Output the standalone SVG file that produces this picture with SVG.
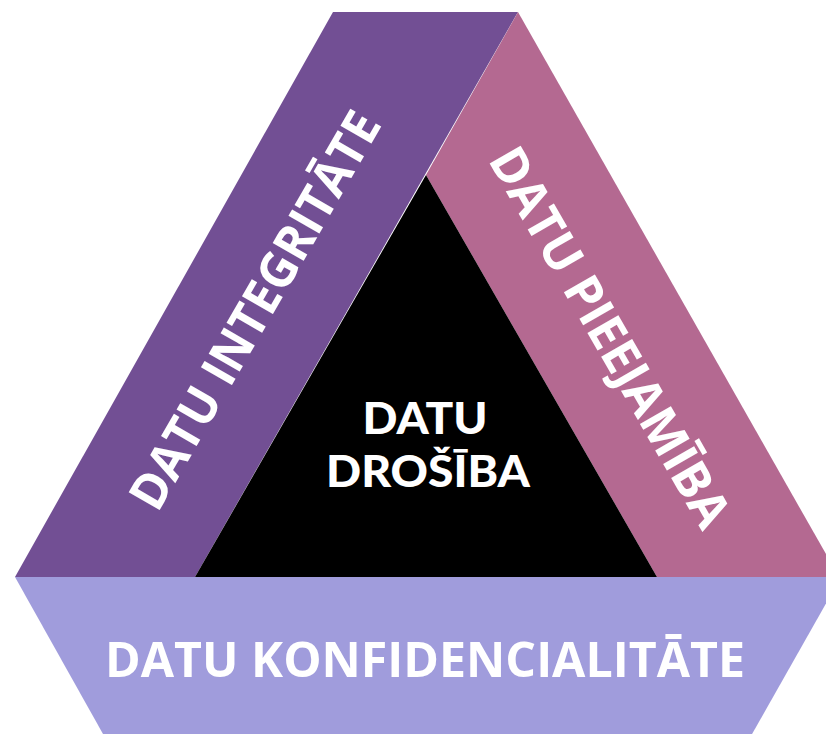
<svg xmlns="http://www.w3.org/2000/svg" width="826" height="734" viewBox="0 0 826 734">
<style>
.lbl{font-family:"Open Sans","Liberation Sans",sans-serif;font-weight:bold;fill:#ffffff;text-anchor:middle}
.ctr{font-family:Lato,"Open Sans","Liberation Sans",sans-serif;font-weight:900;fill:#ffffff;text-anchor:middle}
</style>
<rect width="826" height="734" fill="#ffffff"/>
<g id="integritate">
<polygon points="333,12 518,12 195,577 15,577" fill="#724F94"/>
<text class="lbl" font-size="50" transform="translate(270,319) rotate(-60)" x="0" y="0" textLength="450" lengthAdjust="spacingAndGlyphs">DATU INTEGRITĀTE</text>
</g>
<g id="pieejamiba">
<polygon points="518,12 839,577 657,577 426,175" fill="#B46991"/>
<text class="lbl" font-size="50" transform="translate(595,346) rotate(60)" x="0" y="0" textLength="430" lengthAdjust="spacingAndGlyphs">DATU PIEEJAMĪBA</text>
</g>
<g id="drosiba">
<polygon points="426,175 657,577 195,577" fill="#000000"/>
<text class="ctr" font-size="44" x="425" y="434" textLength="125" lengthAdjust="spacingAndGlyphs">DATU</text>
<text class="ctr" font-size="44" x="428" y="487" textLength="204" lengthAdjust="spacingAndGlyphs">DROŠĪBA</text>
</g>
<g id="konfidencialitate">
<polygon points="15,577 841,577 743,750 112,750" fill="#A09CDC"/>
<text class="lbl" font-size="48" x="425" y="677" textLength="640" lengthAdjust="spacingAndGlyphs">DATU KONFIDENCIALITĀTE</text>
</g>
<g id="connectors"/>
</svg>
